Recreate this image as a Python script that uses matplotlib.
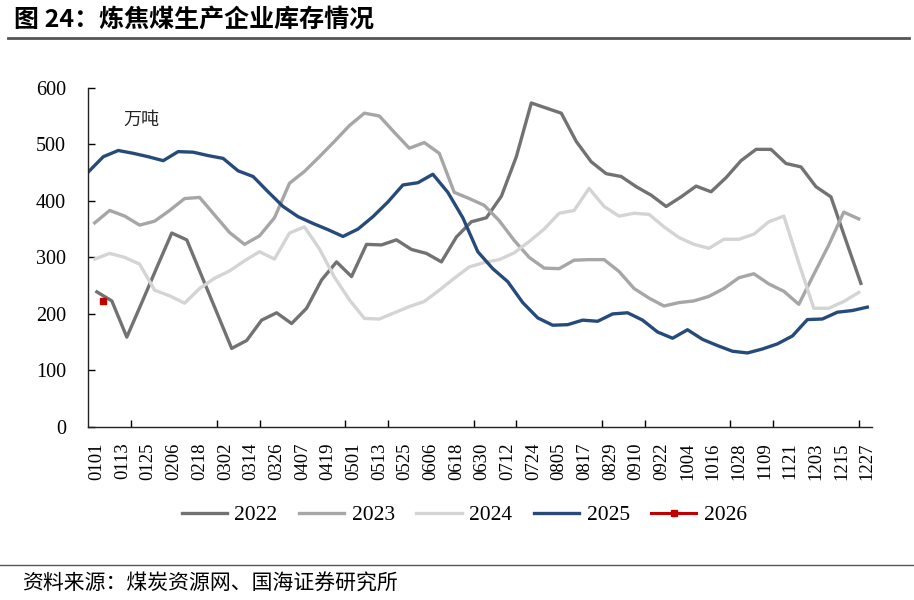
import datetime as dt
import numpy as np
import matplotlib
matplotlib.use('Agg')
import matplotlib.pyplot as plt
from matplotlib.lines import Line2D

cjk = ['Noto Sans CJK SC', 'DejaVu Sans']
serif = ['Liberation Serif', 'DejaVu Serif']

# x labels (every 12 days, mmdd)
x_labels = ['0101', '0113', '0125', '0206', '0218', '0302', '0314', '0326', '0407', '0419',
            '0501', '0513', '0525', '0606', '0618', '0630', '0712', '0724', '0805', '0817',
            '0829', '0910', '0922', '1004', '1016', '1028', '1109', '1121', '1203', '1215', '1227']

# weekly inventory, 万吨
inv_2022 = [239, 223, 159, 220, 282, 343, 331, 267, 203, 139,
            153, 189, 202, 183, 210, 260, 292, 266, 323, 322,
            331, 314, 307, 292, 336, 363, 370, 408, 478, 573,
            564, 555, 505, 469, 448, 443, 425, 410, 390, 407,
            426, 416, 441, 471, 491, 491, 466, 460, 425, 407,
            330, 254]
inv_2023 = [361, 383, 373, 357, 364, 383, 404, 406, 375, 344,
            323, 338, 370, 431, 452, 478, 505, 533, 555, 550,
            521, 493, 503, 484, 415, 404, 392, 365, 330, 300,
            281, 280, 295, 296, 296, 275, 245, 228, 214, 220,
            223, 231, 245, 264, 271, 253, 240, 217, 270, 322,
            380, 368]
inv_2024 = [297, 307, 300, 288, 242, 232, 219, 245, 263, 276,
            294, 310, 297, 343, 354, 315, 265, 225, 192, 191,
            202, 213, 222, 242, 263, 283, 291, 296, 308, 328,
            350, 378, 383, 422, 390, 373, 378, 376, 354, 335,
            323, 316, 332, 332, 341, 363, 373, 290, 210, 210,
            222, 238]
inv_2025 = [451, 478, 489, 484, 478, 471, 487, 486, 480, 475,
            453, 443, 416, 390, 372, 360, 349, 337, 350, 372,
            398, 428, 432, 447, 415, 370, 310, 280, 257, 220,
            193, 180, 181, 189, 187, 200, 202, 189, 168, 157,
            172, 155, 144, 134, 131, 138, 147, 161, 190, 191,
            203, 206, 212]
inv_2026 = [223]

# first observation of each year, as day offset from 0101
start_day = {'2022': 0, '2023': -1, '2024': -1, '2025': -4, '2026': 3}
colors = {'2022': '#727272', '2023': '#a6a6a6', '2024': '#d4d4d4',
          '2025': '#264b7a', '2026': '#c00000'}
series = {'2022': inv_2022, '2023': inv_2023, '2024': inv_2024,
          '2025': inv_2025, '2026': inv_2026}


def day_of_year(mmdd):
    return dt.datetime.strptime('2023' + mmdd, '%Y%m%d').timetuple().tm_yday - 1


fig = plt.figure(figsize=(9.14, 6.0), dpi=100)
ax = fig.add_axes([0.0966, 0.2883, 0.857, 0.5655])

for name, vals in series.items():
    x = start_day[name] + 7 * np.arange(len(vals))
    if name == '2026':
        ax.plot(x, vals, color=colors[name], lw=2.2, marker='s', ms=5, label=name)
    else:
        ax.plot(x, vals, color=colors[name], lw=2.4, label=name)

ax.set_xlim(-4, 362)
ax.set_ylim(0, 600)
ax.set_yticks(range(0, 601, 100))
ax.set_xticks([day_of_year(s) for s in x_labels])
ax.set_xticklabels(x_labels, rotation=90, fontfamily=serif, fontsize=13.5)
ax.set_xticks(np.arange(16, 362, 20), minor=True)
ax.tick_params(axis='x', which='major', length=0, pad=11)
ax.tick_params(axis='x', which='minor', direction='in', length=5, width=1)
ax.tick_params(axis='y', direction='in', length=5, width=1, pad=16)
for lbl in ax.get_yticklabels():
    lbl.set_fontfamily(serif)
    lbl.set_fontsize(14.5)
for s in ['top', 'right']:
    ax.spines[s].set_visible(False)
for s in ['left', 'bottom']:
    ax.spines[s].set_color('#222222')
    ax.spines[s].set_linewidth(1.0)

ax.text(0.045, 0.905, '万吨', transform=ax.transAxes, fontfamily=cjk, fontsize=13,
        color='#222222', va='center')

fig.legend(loc='center', bbox_to_anchor=(0.508, 0.141), ncol=5, frameon=False,
           prop={'family': serif, 'size': 15.5}, handlelength=2.1, handletextpad=0.35,
           columnspacing=1.0)

fig.text(0.015, 0.968, '图 24：炼焦煤生产企业库存情况', fontfamily=cjk, fontsize=18,
         fontweight='bold', va='center', ha='left')
fig.add_artist(Line2D([0.009, 0.994], [0.936, 0.936], color='#555555', lw=2.0))
fig.add_artist(Line2D([0.0, 1.0], [0.058, 0.058], color='#555555', lw=1.0))
fig.text(0.024, 0.027, '资料来源：煤炭资源网、国海证券研究所', fontfamily=cjk, fontsize=15,
         va='center', ha='left')

fig.savefig('out.png', dpi=100)
